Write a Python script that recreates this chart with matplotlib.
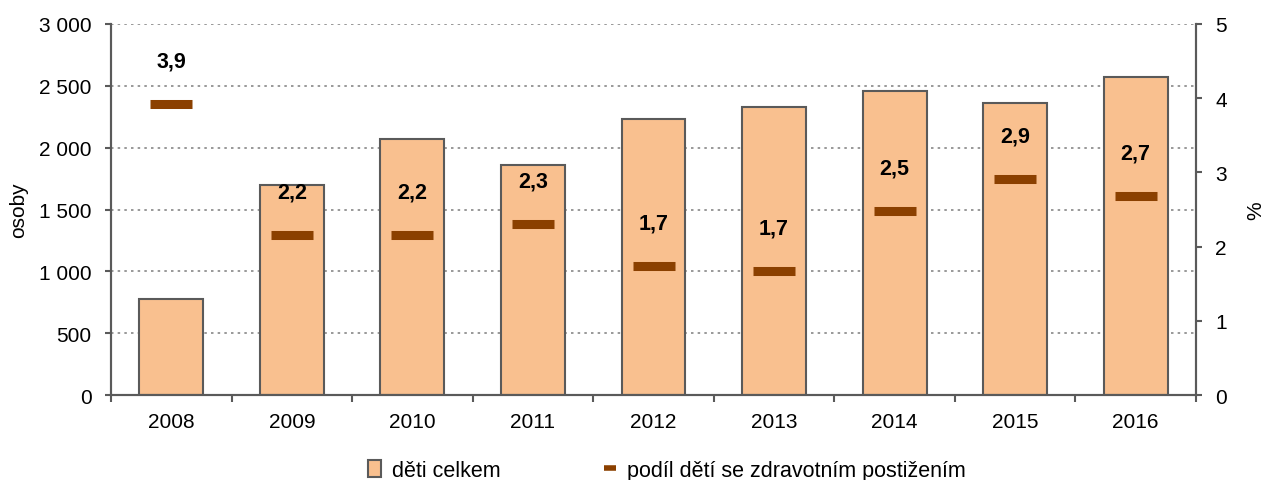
import matplotlib
matplotlib.use("Agg")
import matplotlib.pyplot as plt
import numpy as np
from matplotlib.ticker import FuncFormatter, FixedLocator
from matplotlib.lines import Line2D
from matplotlib.patches import Patch

years = ["2008", "2009", "2010", "2011", "2012", "2013", "2014", "2015", "2016"]
deti_celkem = [780, 1700, 2070, 1860, 2230, 2330, 2460, 2360, 2570]
podil = [3.92, 2.16, 2.16, 2.30, 1.74, 1.67, 2.48, 2.91, 2.68]
podil_labels = ["3,9", "2,2", "2,2", "2,3", "1,7", "1,7", "2,5", "2,9", "2,7"]

plt.rcParams['font.family'] = ['Liberation Sans', 'DejaVu Sans']

fig = plt.figure(figsize=(12.68, 4.81), dpi=100)
ax = fig.add_axes([111/1268, 1-396/481, (1196-111)/1268, (396-25)/481])
ax2 = ax.twinx()

x = np.arange(len(years))
bar_color = "#F9C08F"
edge = "#5a5a5a"
mk_color = "#8B4000"
fs = 15

ax.bar(x, deti_celkem, width=0.53, color=bar_color, edgecolor=edge, linewidth=1.5, zorder=2)
ax.set_xlim(-0.5, len(years) - 0.5)
ax.set_ylim(0, 3000)
ax.set_yticks(np.arange(0, 3001, 500))
ax.yaxis.set_major_formatter(FuncFormatter(lambda v, p: f"{int(v):,}".replace(",", " ")))
ax.grid(axis='y', linestyle=(0, (1.5, 2.5)), color="#888888", linewidth=1.2, zorder=0)
ax.set_axisbelow(True)

ax.set_xticks(x)
ax.set_xticklabels(years)
ax.xaxis.set_minor_locator(FixedLocator(np.arange(-0.5, len(years), 1.0)))
ax.tick_params(axis='x', which='major', length=0, pad=12, labelsize=fs)
ax.tick_params(axis='x', which='minor', length=5, width=1.5, color=edge, direction='out')
ax.tick_params(axis='y', length=4, width=1.5, color=edge, labelsize=fs, pad=10)

ax2.set_ylim(0, 5)
ax2.set_yticks(np.arange(0, 6, 1))
ax2.tick_params(axis='y', length=4, width=1.5, color=edge, labelsize=fs, pad=10)

for a in (ax, ax2):
    a.spines['top'].set_visible(False)
    for s in ('left', 'right', 'bottom'):
        a.spines[s].set_color(edge)
        a.spines[s].set_linewidth(1.5)

ax2.plot(x, podil, linestyle='none', marker='_', markersize=30, markeredgewidth=6.5,
         color=mk_color, zorder=5)
for xi, v, lab in zip(x, podil, podil_labels):
    ax2.annotate(lab, (xi, v), xytext=(0, 31), textcoords='offset points',
                 ha='center', va='center', fontsize=15.5, fontweight='bold', color='black')

ax.set_ylabel("osoby", fontsize=fs, labelpad=8)
ax2.set_ylabel("%", fontsize=fs, labelpad=14)

handles = [Patch(facecolor=bar_color, edgecolor=edge, linewidth=1.5),
           Line2D([0], [0], color=mk_color, linewidth=4, solid_capstyle='butt')]
fig.legend(handles, ["děti celkem", "podíl dětí se zdravotním postižením"],
           loc='lower center', bbox_to_anchor=(0.526, -0.042), ncol=2, frameon=False,
           fontsize=15.5, handlelength=0.6, handleheight=0.8, handletextpad=0.5,
           columnspacing=4.8)

fig.savefig("out.png", dpi=100)
